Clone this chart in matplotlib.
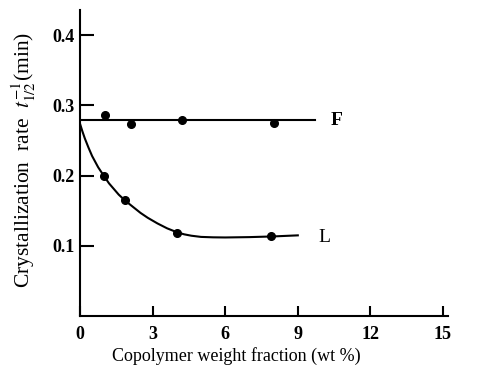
import matplotlib
matplotlib.use('Agg')
import matplotlib.pyplot as plt

plt.rcParams['font.family'] = ['Liberation Serif', 'DejaVu Serif']
plt.rcParams['mathtext.fontset'] = 'stix'

# measured points, F copolymer
f_x = [1.05, 2.1, 4.2, 8.0]
f_y = [0.286, 0.274, 0.280, 0.275]
# F fit line (flat)
f_line_x = [0.0, 9.7]
f_line_y = [0.279, 0.279]

# measured points, L copolymer
l_x = [1.0, 1.85, 4.0, 7.9]
l_y = [0.199, 0.166, 0.119, 0.114]
# L fit curve
l_curve_x = [0.0, 0.1, 0.2, 0.35, 0.5, 0.75, 1.0, 1.2, 1.4, 1.6, 1.85, 2.1, 2.5, 2.8, 3.2, 3.6,
             4.0, 4.3, 4.6, 5.0, 5.5, 6.0, 7.0, 8.0, 9.0]
l_curve_y = [0.274, 0.263, 0.253, 0.240, 0.228, 0.212, 0.199, 0.189, 0.181, 0.173, 0.165, 0.158,
             0.147, 0.140, 0.132, 0.125, 0.1195, 0.1165, 0.1145, 0.1128, 0.1122, 0.112, 0.1125,
             0.1135, 0.115]

x_ticks = [0, 3, 6, 9, 12, 15]
y_ticks = [0.1, 0.2, 0.3, 0.4]
y_tick_labels = ['0.1', '0.2', '0.3', '0.4']

fig = plt.figure(figsize=(4.8, 3.71), dpi=100)
ax = fig.add_axes([0.1667, 0.148, 0.7663, 0.825])

ax.plot(f_line_x, f_line_y, color='black', lw=1.5)
ax.plot(f_x, f_y, 'o', color='black', ms=5.5)
ax.plot(l_curve_x, l_curve_y, color='black', lw=1.5)
ax.plot(l_x, l_y, 'o', color='black', ms=5.5)

ax.text(10.35, 0.279, 'F', fontsize=14, fontweight='bold', va='center', ha='left')
ax.text(9.85, 0.112, 'L', fontsize=14, va='center', ha='left')

ax.set_xlim(0, 15.2)
ax.set_ylim(0, 0.436)
ax.set_xticks(x_ticks)
ax.set_yticks(y_ticks)
ax.set_yticklabels(y_tick_labels)
for lab in ax.get_xticklabels() + ax.get_yticklabels():
    lab.set_fontweight('bold')

for side in ['top', 'right']:
    ax.spines[side].set_visible(False)
for side in ['left', 'bottom']:
    ax.spines[side].set_linewidth(1.5)

ax.tick_params(axis='x', direction='in', length=7, width=1.5, pad=7, labelsize=13)
ax.tick_params(axis='y', direction='in', length=10, width=1.5, pad=4, labelsize=13)

ax.set_xlabel('Copolymer weight fraction (wt %)', fontsize=13)
ax.xaxis.set_label_coords(0.424, -0.1)
ax.set_ylabel('Crystallization  rate  $t_{1/2}^{-1}$(min)', fontsize=15.5)
ax.yaxis.set_label_coords(-0.115, 0.51)

fig.savefig('out.png', dpi=100)
